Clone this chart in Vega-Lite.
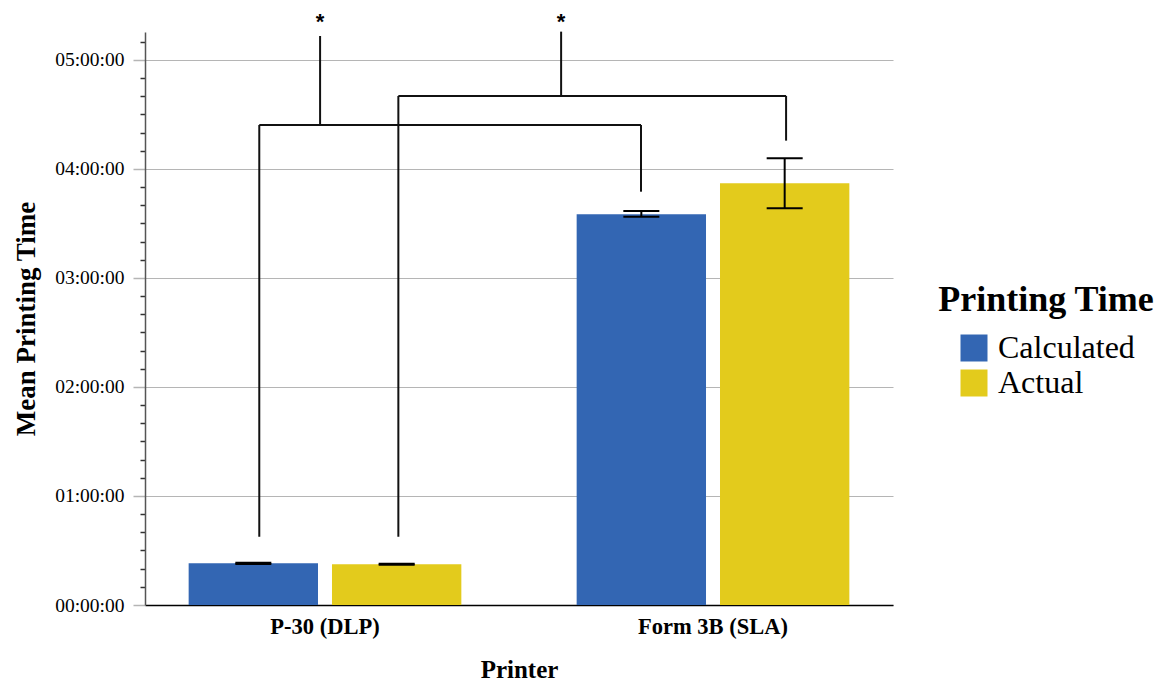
{
  "$schema": "https://vega.github.io/schema/vega-lite/v6.json",
  "autosize": {"type": "none"},
  "padding": {"left": 145, "top": 32, "right": 278, "bottom": 77},
  "width": 748,
  "height": 573,
  "background": "white",
  "config": {"view": {"stroke": null}, "font": "Liberation Serif"},
  "resolve": {"axis": {"x": "independent", "y": "independent"}},
  "datasets": {
    "means": [
      {"Printer": "P-30 (DLP)", "Time": "Calculated", "mean": 22.95, "lo": 22.6, "hi": 23.3},
      {"Printer": "P-30 (DLP)", "Time": "Actual", "mean": 22.4, "lo": 22.1, "hi": 22.7},
      {"Printer": "Form 3B (SLA)", "Time": "Calculated", "mean": 215.1, "lo": 213.7, "hi": 216.9},
      {"Printer": "Form 3B (SLA)", "Time": "Actual", "mean": 232.1, "lo": 218.4, "hi": 245.9}
    ],
    "brackets": [
      {"id": 1, "left": "P-30 (DLP)", "right": "Form 3B (SLA)", "leftBase": 37.6, "rightBase": 227.5, "bar": 264.2, "top": 313.2, "star": 317.3, "label": "*"},
      {"id": 2, "left": "P-30 (DLP)", "right": "Form 3B (SLA)", "leftBase": 37.6, "rightBase": 255.6, "bar": 280.2, "top": 315.6, "star": 317.3, "label": "*"}
    ]
  },
  "layer": [
    {
      "data": {"name": "means"},
      "mark": {"type": "bar"},
      "encoding": {
        "x": {
          "field": "Printer", "type": "nominal", "title": "Printer",
          "scale": {"domain": ["P-30 (DLP)", "Form 3B (SLA)"], "paddingInner": 0.2972, "paddingOuter": 0.1125},
          "axis": {
            "labelAngle": 0, "ticks": false, "grid": false,
            "domainColor": "black", "domainWidth": 1.5,
            "labelFontSize": 22.5, "labelFontWeight": "bold", "labelColor": "black", "labelPadding": 10,
            "titleFontSize": 25, "titleFontWeight": "bold", "titleColor": "black", "titlePadding": 20
          }
        },
        "xOffset": {
          "field": "Time", "type": "nominal",
          "scale": {"domain": ["Calculated", "Actual"], "paddingInner": 0.0976, "paddingOuter": 0}
        },
        "y": {
          "field": "mean", "type": "quantitative", "title": "Mean Printing Time",
          "scale": {"domain": [0, 315.4], "nice": false, "zero": true},
          "axis": {
            "orient": "left",
            "values": [0, 10, 20, 30, 40, 50, 60, 70, 80, 90, 100, 110, 120, 130, 140, 150, 160, 170, 180, 190, 200, 210, 220, 230, 240, 250, 260, 270, 280, 290, 300, 310],
            "labelExpr": "datum.value % 60 === 0 ? '0' + (datum.value / 60) + ':00:00' : ''",
            "labelOverlap": false,
            "grid": true,
            "gridColor": "#b5b5b5",
            "gridWidth": 1.2,
            "gridOpacity": {"condition": {"test": "datum.value % 60 === 0", "value": 1}, "value": 0},
            "tickColor": {"condition": {"test": "datum.value % 60 === 0", "value": "#b5b5b5"}, "value": "#333333"},
            "tickSize": {"condition": {"test": "datum.value % 60 === 0", "value": 12}, "value": 5},
            "tickWidth": 1.5,
            "domainColor": "#555555", "domainWidth": 1.5,
            "labelFontSize": 19.5, "labelColor": "black", "labelPadding": 9,
            "titleFontSize": 27, "titleFontWeight": "bold", "titleColor": "black", "titlePadding": 14
          }
        },
        "color": {
          "field": "Time", "type": "nominal", "title": "Printing Time",
          "scale": {"domain": ["Calculated", "Actual"], "range": ["#3366B3", "#E3CB1C"]},
          "legend": {
            "orient": "none", "legendX": 793, "legendY": 251, "padding": 0,
            "titleFontSize": 36, "titleFontWeight": "bold", "titleColor": "black", "titleAnchor": "middle", "titlePadding": 13, "titleLimit": 500,
            "labelFontSize": 32, "labelColor": "black", "labelOffset": 8, "labelLimit": 500,
            "symbolType": "square", "symbolSize": 729, "symbolStrokeWidth": 0, "symbolOpacity": 1, "rowPadding": 3
          }
        }
      }
    },
    {
      "data": {"name": "means"},
      "mark": {"type": "rule", "color": "black", "strokeWidth": 2},
      "encoding": {
        "x": {"field": "Printer", "type": "nominal", "axis": null},
        "xOffset": {"field": "Time", "type": "nominal"},
        "y": {"field": "lo", "type": "quantitative", "axis": null},
        "y2": {"field": "hi"}
      }
    },
    {
      "data": {"name": "means"},
      "mark": {"type": "tick", "orient": "horizontal", "color": "black", "size": 36, "thickness": 2, "opacity": 1},
      "encoding": {
        "x": {"field": "Printer", "type": "nominal", "axis": null},
        "xOffset": {"field": "Time", "type": "nominal"},
        "y": {"field": "lo", "type": "quantitative", "axis": null}
      }
    },
    {
      "data": {"name": "means"},
      "mark": {"type": "tick", "orient": "horizontal", "color": "black", "size": 36, "thickness": 2, "opacity": 1},
      "encoding": {
        "x": {"field": "Printer", "type": "nominal", "axis": null},
        "xOffset": {"field": "Time", "type": "nominal"},
        "y": {"field": "hi", "type": "quantitative", "axis": null}
      }
    },
    {
      "data": {"name": "brackets"},
      "transform": [{"filter": "datum.id === 1"}],
      "mark": {"type": "rule", "color": "#111111", "strokeWidth": 2},
      "encoding": {
        "x": {"field": "left", "type": "nominal", "bandPosition": 0.259, "axis": null},
        "y": {"field": "leftBase", "type": "quantitative", "axis": null},
        "y2": {"field": "bar"}
      }
    },
    {
      "data": {"name": "brackets"},
      "transform": [{"filter": "datum.id === 1"}],
      "mark": {"type": "rule", "color": "#111111", "strokeWidth": 2},
      "encoding": {
        "x": {"field": "right", "type": "nominal", "bandPosition": 0.236, "axis": null},
        "y": {"field": "rightBase", "type": "quantitative", "axis": null},
        "y2": {"field": "bar"}
      }
    },
    {
      "data": {"name": "brackets"},
      "transform": [{"filter": "datum.id === 1"}],
      "mark": {"type": "rule", "color": "#111111", "strokeWidth": 2},
      "encoding": {
        "x": {"field": "left", "type": "nominal", "bandPosition": 0.259, "axis": null},
        "x2": {"field": "right", "bandPosition": 0.236},
        "y": {"field": "bar", "type": "quantitative", "axis": null}
      }
    },
    {
      "data": {"name": "brackets"},
      "transform": [{"filter": "datum.id === 1"}],
      "mark": {"type": "rule", "color": "#111111", "strokeWidth": 2},
      "encoding": {
        "x": {"field": "left", "type": "nominal", "bandPosition": 0.482, "axis": null},
        "y": {"field": "bar", "type": "quantitative", "axis": null},
        "y2": {"field": "top"}
      }
    },
    {
      "data": {"name": "brackets"},
      "transform": [{"filter": "datum.id === 1"}],
      "mark": {"type": "text", "font": "Liberation Sans", "fontWeight": "bold", "fontSize": 22, "color": "black", "baseline": "alphabetic", "align": "center"},
      "encoding": {
        "x": {"field": "left", "type": "nominal", "bandPosition": 0.482, "axis": null},
        "y": {"field": "star", "type": "quantitative", "axis": null},
        "text": {"field": "label"}
      }
    },
    {
      "data": {"name": "brackets"},
      "transform": [{"filter": "datum.id === 2"}],
      "mark": {"type": "rule", "color": "#111111", "strokeWidth": 2},
      "encoding": {
        "x": {"field": "left", "type": "nominal", "bandPosition": 0.769, "axis": null},
        "y": {"field": "leftBase", "type": "quantitative", "axis": null},
        "y2": {"field": "bar"}
      }
    },
    {
      "data": {"name": "brackets"},
      "transform": [{"filter": "datum.id === 2"}],
      "mark": {"type": "rule", "color": "#111111", "strokeWidth": 2},
      "encoding": {
        "x": {"field": "right", "type": "nominal", "bandPosition": 0.768, "axis": null},
        "y": {"field": "rightBase", "type": "quantitative", "axis": null},
        "y2": {"field": "bar"}
      }
    },
    {
      "data": {"name": "brackets"},
      "transform": [{"filter": "datum.id === 2"}],
      "mark": {"type": "rule", "color": "#111111", "strokeWidth": 2},
      "encoding": {
        "x": {"field": "left", "type": "nominal", "bandPosition": 0.769, "axis": null},
        "x2": {"field": "right", "bandPosition": 0.768},
        "y": {"field": "bar", "type": "quantitative", "axis": null}
      }
    },
    {
      "data": {"name": "brackets"},
      "transform": [{"filter": "datum.id === 2"}],
      "mark": {"type": "rule", "color": "#111111", "strokeWidth": 2},
      "encoding": {
        "x": {"field": "right", "type": "nominal", "bandPosition": -0.057, "axis": null},
        "y": {"field": "bar", "type": "quantitative", "axis": null},
        "y2": {"field": "top"}
      }
    },
    {
      "data": {"name": "brackets"},
      "transform": [{"filter": "datum.id === 2"}],
      "mark": {"type": "text", "font": "Liberation Sans", "fontWeight": "bold", "fontSize": 22, "color": "black", "baseline": "alphabetic", "align": "center"},
      "encoding": {
        "x": {"field": "right", "type": "nominal", "bandPosition": -0.057, "axis": null},
        "y": {"field": "star", "type": "quantitative", "axis": null},
        "text": {"field": "label"}
      }
    }
  ]
}
